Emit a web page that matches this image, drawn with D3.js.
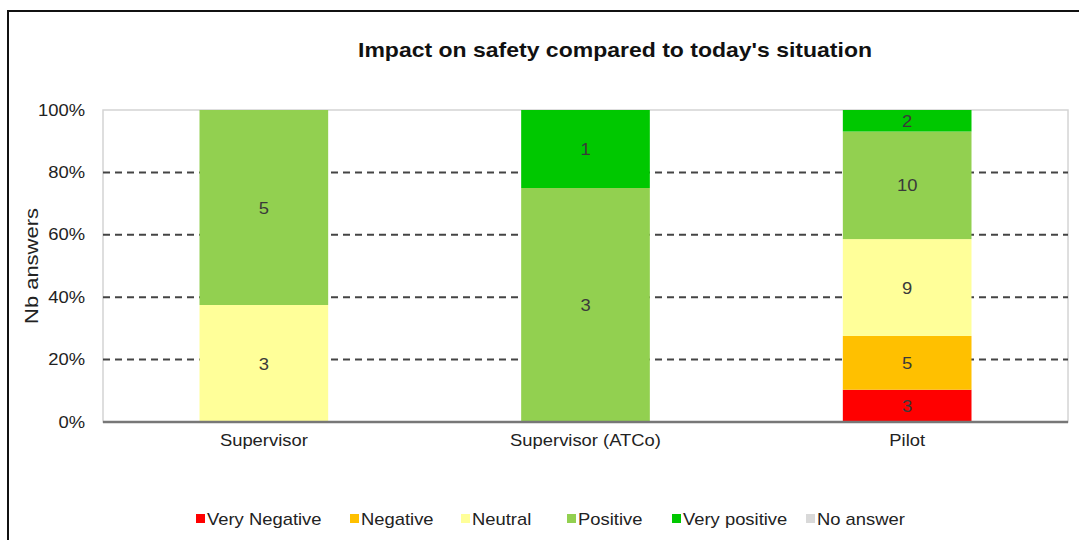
<!DOCTYPE html>
<html>
<head>
<meta charset="utf-8">
<script src="https://cdn.jsdelivr.net/npm/d3@7"></script>
<style>
  html, body { margin: 0; padding: 0; background: #fff; }
  svg { display: block; font-family: "Liberation Sans", Arial, sans-serif; }
</style>
</head>
<body>
<svg id="chart" width="1079" height="540"></svg>
<script>
// Survey answers per respondent group
const categories = ["Supervisor", "Supervisor (ATCo)", "Pilot"];
const seriesNames = ["Very Negative", "Negative", "Neutral", "Positive", "Very positive", "No answer"];
const seriesColors = ["#ff0000", "#ffc000", "#ffff99", "#92d050", "#00c800", "#d9d9d9"];
const veryNegative = [0, 0, 3];
const negative     = [0, 0, 5];
const neutral      = [3, 0, 9];
const positive     = [5, 3, 10];
const veryPositive = [0, 1, 2];
const noAnswer     = [0, 0, 0];
const yTicks = [0, 0.2, 0.4, 0.6, 0.8, 1];

const seriesValues = [veryNegative, negative, neutral, positive, veryPositive, noAnswer];

const rows = categories.map((c, i) => {
  const row = { category: c };
  seriesNames.forEach((s, k) => row[s] = seriesValues[k][i]);
  return row;
});

const stack = d3.stack().keys(seriesNames).offset(d3.stackOffsetExpand);
const layers = stack(rows);

const svg = d3.select("#chart");
const plotLeft = 103, plotRight = 1068, plotTop = 110, plotBottom = 422;
const WIDE = 1.15;   // horizontal widening of the lettering
const FONT = 16;

// place a text at (px, py), widened along its baseline
function wideText(sel, px, py, extra) {
  return sel.attr("x", 0).attr("y", 0)
    .attr("transform", (d, i) => {
      const X = typeof px === "function" ? px(d, i) : px;
      const Y = typeof py === "function" ? py(d, i) : py;
      return `translate(${X},${Y}) ${extra || ""} scale(${WIDE},1)`;
    });
}

const x = d3.scaleBand().domain(categories).range([plotLeft, plotRight])
  .paddingInner(0.6).paddingOuter(0.3);
const y = d3.scaleLinear().domain([0, 1]).range([plotBottom, plotTop]);
const color = d3.scaleOrdinal().domain(seriesNames).range(seriesColors);

// outer frame (top and left edges)
svg.append("path")
  .attr("d", `M8,540 L8,11 L1079,11`)
  .attr("fill", "none").attr("stroke", "#111").attr("stroke-width", 2);

// title
wideText(svg.append("text"), 615, 57)
  .attr("text-anchor", "middle")
  .attr("font-size", 20).attr("font-weight", "bold").attr("fill", "#111")
  .text("Impact on safety compared to today's situation");

// plot frame
svg.append("rect")
  .attr("x", plotLeft).attr("y", plotTop)
  .attr("width", plotRight - plotLeft).attr("height", plotBottom - plotTop)
  .attr("fill", "none").attr("stroke", "#d4d4d4").attr("stroke-width", 1.5);

// dashed gridlines
svg.append("g").selectAll("line")
  .data(yTicks.filter(t => t > 0 && t < 1))
  .join("line")
  .attr("x1", plotLeft).attr("x2", plotRight)
  .attr("y1", d => y(d)).attr("y2", d => y(d))
  .attr("stroke", "#444").attr("stroke-width", 2)
  .attr("stroke-dasharray", "7,5");

// stacked bars
const layerG = svg.append("g").selectAll("g")
  .data(layers).join("g")
  .attr("fill", d => color(d.key));

layerG.selectAll("rect")
  .data(d => d.map(p => ({ key: d.key, p })))
  .join("rect")
  .attr("x", d => x(d.p.data.category))
  .attr("width", x.bandwidth())
  .attr("y", d => y(d.p[1]))
  .attr("height", d => Math.max(0, y(d.p[0]) - y(d.p[1])));

// value labels
wideText(
  layerG.selectAll("text")
    .data(d => d.map(p => ({ key: d.key, p })).filter(d => d.p.data[d.key] > 0))
    .join("text"),
  d => x(d.p.data.category) + x.bandwidth() / 2,
  d => (y(d.p[0]) + y(d.p[1])) / 2 + 6)
  .attr("text-anchor", "middle")
  .attr("font-size", FONT).attr("fill", "#3a3a3a")
  .text(d => d.p.data[d.key]);

// baseline
svg.append("line")
  .attr("x1", plotLeft).attr("x2", plotRight)
  .attr("y1", plotBottom).attr("y2", plotBottom)
  .attr("stroke", "#777").attr("stroke-width", 2.5);

// y axis labels
const yAxis = d3.axisLeft(y).tickValues(yTicks).tickFormat(d3.format(".0%")).tickSize(0).tickPadding(18);
const yg = svg.append("g").attr("transform", `translate(${plotLeft},0)`).call(yAxis);
yg.select(".domain").remove();
yg.selectAll("text").attr("font-size", FONT).attr("fill", "#222")
  .attr("font-family", "'Liberation Sans', Arial, sans-serif")
  .attr("transform", `translate(-18,0) scale(${WIDE},1)`).attr("x", 0);

// x axis labels
const xAxis = d3.axisBottom(x).tickSize(0).tickPadding(13);
const xg = svg.append("g").attr("transform", `translate(0,${plotBottom})`).call(xAxis);
xg.select(".domain").remove();
xg.selectAll("text").attr("font-size", FONT).attr("fill", "#222")
  .attr("font-family", "'Liberation Sans', Arial, sans-serif")
  .attr("transform", `scale(${WIDE},1)`);

// y axis title
svg.append("text")
  .attr("transform", `translate(38,${(plotTop + plotBottom) / 2}) rotate(-90) scale(1.22,1)`)
  .attr("text-anchor", "middle")
  .attr("font-size", 18).attr("fill", "#222")
  .text("Nb answers");

// legend
const legendX = [196, 350, 461, 567, 672, 806];
const legend = svg.append("g").selectAll("g")
  .data(seriesNames).join("g")
  .attr("transform", (d, i) => `translate(${legendX[i]},519)`);
legend.append("rect")
  .attr("x", 0).attr("y", -5).attr("width", 9).attr("height", 9)
  .attr("fill", d => color(d));
wideText(legend.append("text"), 11, 6)
  .attr("font-size", FONT).attr("fill", "#222")
  .text(d => d);
</script>
</body>
</html>
